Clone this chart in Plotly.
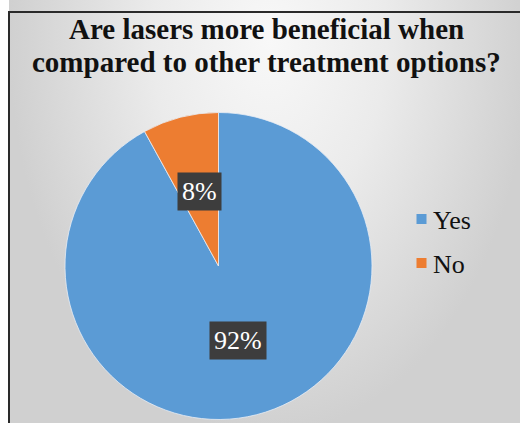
import math
import plotly.graph_objects as go

# Survey answers
labels = ["Yes", "No"]
shares = [92, 8]
slice_colors = ["#5B9BD5", "#ED7D31"]
title_lines = ["Are lasers more beneficial when", "compared to other treatment options?"]

W, H = 520, 423
SERIF = "'Liberation Serif', 'Times New Roman', Times, 'DejaVu Serif', serif"

# pie geometry in pixels
cx, cy, R = 218.5, 266.0, 153.5


def px(x):
    return x / W


def py(y):
    return 1 - y / H


fig = go.Figure()

# chart-area background with a soft radial shading (clipped to the hidden axes)
fig.add_trace(go.Scatter(
    x=[9, 530, 530, 9, 9],
    y=[-10, -10, 776, 776, -10],
    mode="lines",
    line=dict(width=0),
    fill="toself",
    fillgradient=dict(
        type="radial",
        colorscale=[[0, "#f8f8f8"], [0.45, "#ebebeb"], [1, "#d0d0d0"]],
    ),
    hoverinfo="skip",
    showlegend=False,
))

fig.add_trace(go.Pie(
    labels=labels,
    values=shares,
    sort=False,
    direction="clockwise",
    rotation=0,
    marker=dict(colors=slice_colors, line=dict(color="#e8eef5", width=0.8)),
    textinfo="none",
    hoverinfo="label+percent",
    showlegend=False,
    domain=dict(x=[px(cx - R), px(cx + R)], y=[py(cy + R), py(cy - R)]),
))

annotations = []
shapes = []

# data labels: dark boxes placed halfway out along each slice's bisector
total = sum(shares)
start = 0.0
for lab, val in zip(labels, shares):
    span = 360.0 * val / total
    mid = math.radians(start + span / 2)
    start += span
    r = 0.5 * R
    lx = cx + r * math.sin(mid)
    ly = cy - r * math.cos(mid)
    annotations.append(dict(
        x=px(lx), y=py(ly), xref="paper", yref="paper",
        text=f"{round(100 * val / total)}%",
        showarrow=False,
        font=dict(family=SERIF, size=26, color="white"),
        bgcolor="#3d3d3d",
        borderpad=4,
        xanchor="center", yanchor="middle",
    ))

# legend
leg_x, leg_y0, leg_dy = 421.5, 219.0, 44.0
for i, (lab, col) in enumerate(zip(labels, slice_colors)):
    yy = leg_y0 + i * leg_dy
    shapes.append(dict(
        type="rect", xref="paper", yref="paper",
        x0=px(leg_x - 5), x1=px(leg_x + 5), y0=py(yy + 5), y1=py(yy - 5),
        fillcolor=col, line=dict(width=0), layer="above",
    ))
    annotations.append(dict(
        x=px(431), y=py(yy + 1), xref="paper", yref="paper",
        text=lab, showarrow=False,
        font=dict(family=SERIF, size=26, color="#111111"),
        xanchor="left", yanchor="middle",
    ))

# title
for i, line in enumerate(title_lines):
    annotations.append(dict(
        x=px(266), y=py(29 + i * 33), xref="paper", yref="paper",
        text=f"<b>{line}</b>", showarrow=False,
        font=dict(family=SERIF, size=29, color="#111111"),
        xanchor="center", yanchor="middle",
    ))

# chart border
shapes.append(dict(
    type="rect", xref="paper", yref="paper",
    x0=px(9), x1=px(540), y0=py(440), y1=py(12),
    line=dict(color="#2a2a2a", width=2), fillcolor="rgba(0,0,0,0)", layer="above",
))

fig.update_layout(
    width=W, height=H,
    margin=dict(l=0, r=0, t=0, b=0),
    paper_bgcolor="white",
    plot_bgcolor="rgba(0,0,0,0)",
    xaxis=dict(range=[0, W], visible=False, fixedrange=True, domain=[0, 1]),
    yaxis=dict(range=[0, H], visible=False, fixedrange=True, domain=[0, 1]),
    annotations=annotations,
    shapes=shapes,
    showlegend=False,
)

fig.write_html("out.html")
